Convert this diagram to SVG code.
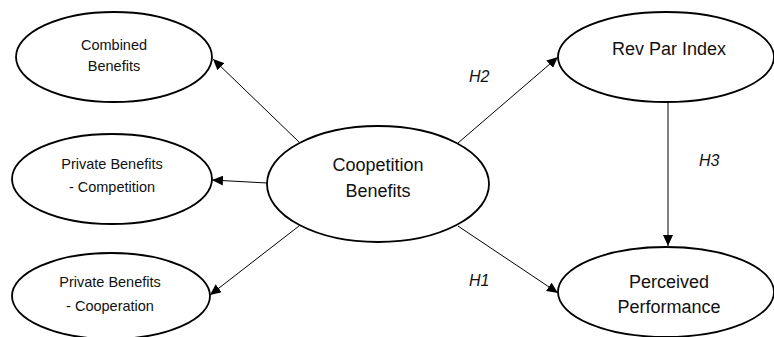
<svg xmlns="http://www.w3.org/2000/svg" width="774" height="337" viewBox="0 0 774 337">
<style>
.node{fill:#fff;stroke:#000;stroke-width:1.8}
.t{font-family:"Liberation Sans",Arial,sans-serif;fill:#111;text-anchor:middle}
.s{font-size:14.5px}
.b{font-size:18px}
.h{font-family:"Liberation Sans",Arial,sans-serif;font-style:italic;font-size:16px;fill:#111}
.c{stroke:#000;stroke-width:1;fill:none;marker-end:url(#ah)}
</style>
<defs>
<marker id="ah" markerUnits="userSpaceOnUse" markerWidth="12" markerHeight="10" refX="11" refY="5" orient="auto">
<path d="M0,0 L11,5 L0,10 z" fill="#000"/>
</marker>
</defs>
<g id="connectors">
<line class="c" x1="299" y1="142" x2="213" y2="59"/>
<line class="c" x1="267" y1="183" x2="212" y2="180"/>
<line class="c" x1="299" y1="226" x2="210" y2="295"/>
<line class="c" x1="458" y1="143" x2="558" y2="57"/>
<line class="c" x1="458" y1="226" x2="558" y2="293"/>
<line class="c" x1="668" y1="102" x2="668" y2="246"/>
<text class="h" x="469" y="82">H2</text>
<text class="h" x="699" y="166">H3</text>
<text class="h" x="469" y="286">H1</text>
</g>
<g id="combined">
<ellipse class="node" cx="114" cy="57" rx="98" ry="45"/>
<text class="t s" x="114" y="50">Combined</text>
<text class="t s" x="114" y="71">Benefits</text>
</g>
<g id="competition">
<ellipse class="node" cx="112" cy="179" rx="100" ry="45"/>
<text class="t s" x="112" y="169">Private Benefits</text>
<text class="t s" x="112" y="192">- Competition</text>
</g>
<g id="cooperation">
<ellipse class="node" cx="111" cy="296" rx="99" ry="43"/>
<text class="t s" x="110" y="287">Private Benefits</text>
<text class="t s" x="110" y="311">- Cooperation</text>
</g>
<g id="coopetition">
<ellipse class="node" cx="378" cy="184" rx="111" ry="58"/>
<text class="t b" x="378" y="171">Coopetition</text>
<text class="t b" x="378" y="197">Benefits</text>
</g>
<g id="revpar">
<ellipse class="node" cx="666" cy="57" rx="108" ry="45"/>
<text class="t b" x="669" y="55">Rev Par Index</text>
</g>
<g id="perceived">
<ellipse class="node" cx="666" cy="292" rx="108" ry="45"/>
<text class="t b" x="669" y="288">Perceived</text>
<text class="t b" x="669" y="313">Performance</text>
</g>
</svg>
